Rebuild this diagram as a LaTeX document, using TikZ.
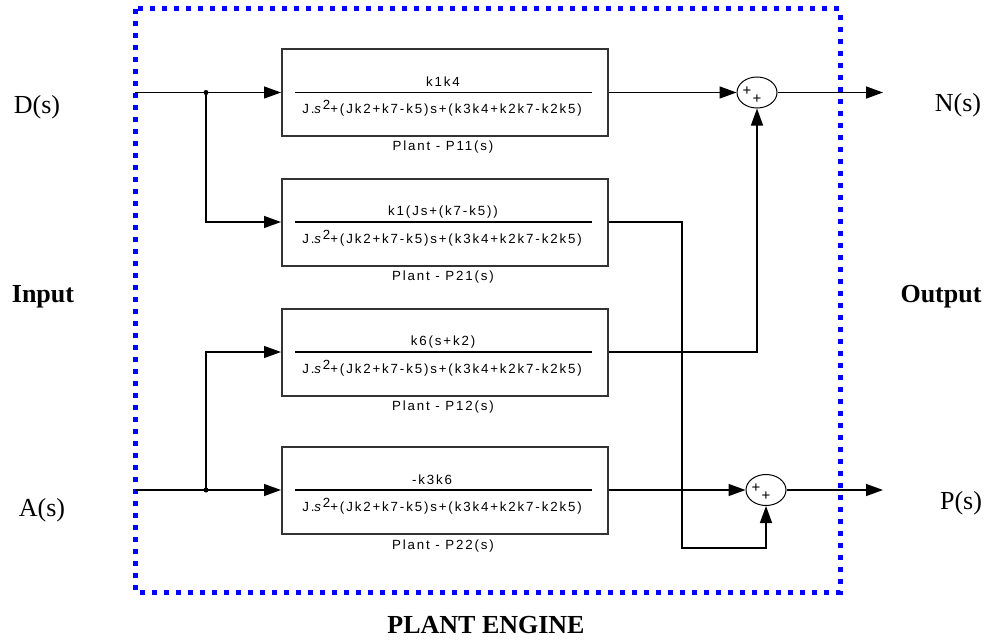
\documentclass[tikz,border=0pt]{standalone}
\usepackage{fontspec}
\setmainfont{Liberation Serif}
\newfontfamily\blk[LetterSpace=14]{Liberation Sans}
\usetikzlibrary{arrows.meta,shapes.geometric}
\begin{document}
\begin{tikzpicture}[x=1pt,y=-1pt,
  line/.style={line width=1.4pt, draw=black},
  arr/.style={line, -{Triangle[length=17pt,width=12pt]}},
  blockbox/.style={draw=black!80, line width=2pt, minimum width=326pt, minimum height=87pt, inner sep=0pt},
  sumnode/.style={draw, ellipse, line width=1pt, minimum width=40pt, minimum height=31pt, inner sep=0pt},
  btext/.style={font=\blk\fontsize{13.3}{13.3}\selectfont, inner sep=0pt},
  plus/.style={font=\blk\fontsize{15}{15}\selectfont, inner sep=0pt},
  biglab/.style={font=\fontsize{26}{26}\selectfont, inner sep=0pt},
  boldlab/.style={font=\bfseries\fontsize{26}{26}\selectfont, inner sep=0pt},
  fracbar/.style={line width=1.1pt},
  border/.style={draw=blue, line width=5pt, dash pattern=on 5pt off 7pt},
  junct/.style={circle, fill=black, inner sep=0pt, minimum size=5pt}
]
\useasboundingbox (0,0) rectangle (988,642);
\newcommand{\den}{J.\textit{s}\raisebox{4pt}{2}+(Jk2+k7-k5)s+(k3k4+k2k7-k2k5)}

% border
\draw[border] (135,9) rectangle (840,592);

% blocks
\node[blockbox] (b1) at (445,92.5) {};
\node[blockbox] (b2) at (445,222) {};
\node[blockbox] (b3) at (445,352) {};
\node[blockbox] (b4) at (445,490) {};

\node[btext] (n1) at (443,82) {k1k4};
\node[btext] (n2) at (443,212) {k1(Js+(k7-k5))};
\node[btext] (n3) at (443,342) {k6(s+k2)};
\node[btext] (n4) at (432,480) {-k3k6};
\foreach \i/\y in {1/92.5,2/222,3/352,4/490}{
  \draw[fracbar] (295,\y) -- (592,\y);
  \node[btext] (d\i) at (442,\y+16) {\den};
}
\node[btext] (l1) at (443,147) {Plant - P11(s)};
\node[btext] (l2) at (443,277) {Plant - P21(s)};
\node[btext] (l3) at (443,407) {Plant - P12(s)};
\node[btext] (l4) at (443,546) {Plant - P22(s)};

% summing junctions
\node[sumnode] (s1) at (757,92.5) {};
\node[sumnode] (s2) at (766,490) {};
\node[plus] (p1a) at (747,91) {+};
\node[plus] (p1b) at (757,99) {+};
\node[plus] (p2a) at (756,488) {+};
\node[plus] (p2b) at (766,496) {+};

% connection points
\coordinate (din) at (135,92.5);
\coordinate (ain) at (135,490);
\node[junct] (j1) at (206,92.5) {};
\node[junct] (j2) at (206,490) {};
\coordinate (c1) at (682,548);
\coordinate (nout) at (883,92.5);
\coordinate (pout) at (883,490);

% connectors
\draw[arr] (din) -- (b1.west);
\draw[arr] (j1.center) |- (b2.west);
\draw[arr] (ain) -- (b4.west);
\draw[arr] (j2.center) |- (b3.west);
\draw[arr] (b1.east) -- (s1.west);
\draw[arr] (b4.east) -- (s2.west);
\draw[arr] (b3.east) -| (s1.south);
\draw[arr] (b2.east) -| (c1) -| (s2.south);
\draw[arr] (s1.east) -- (nout);
\draw[arr] (s2.east) -- (pout);

% labels
\node[biglab] (ds) at (37,107) {D(s)};
\node[biglab] (ns) at (958,105) {N(s)};
\node[biglab] (as) at (42,510) {A(s)};
\node[biglab] (ps) at (961,503) {P(s)};
\node[boldlab] (inp) at (43,297) {Input};
\node[boldlab] (outp) at (941,297) {Output};
\node[boldlab] (pe) at (486,625) {PLANT ENGINE};
\end{tikzpicture}
\end{document}
